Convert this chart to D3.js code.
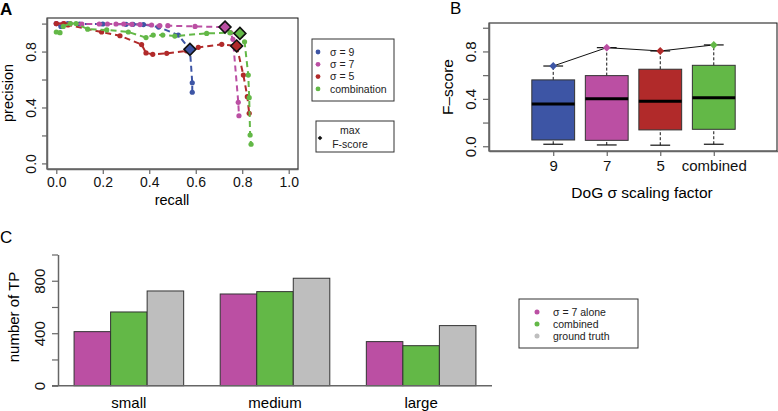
<!DOCTYPE html>
<html>
<head>
<meta charset="utf-8">
<script src="https://cdn.jsdelivr.net/npm/d3@7"></script>
<style>
  body { margin: 0; background: #fff; }
  svg { font-family: "Liberation Sans", Arial, Helvetica, sans-serif; }
</style>
</head>
<body>
<svg id="fig" width="778" height="411"></svg>
<script>
// ==== Data ====
// panel A: precision / recall curves
const recall9    = [0.0, 0.02, 0.05, 0.1, 0.2, 0.3, 0.33, 0.375, 0.44, 0.525, 0.575, 0.585, 0.585];
const precision9 = [1.0, 0.98, 1.0, 0.997, 0.997, 0.995, 0.995, 0.993, 0.975, 0.918, 0.816, 0.577, 0.509];
const recall7    = [0.0, 0.03, 0.06, 0.11, 0.185, 0.22, 0.257, 0.29, 0.325, 0.36, 0.41, 0.445, 0.48, 0.597, 0.726, 0.75, 0.76, 0.783, 0.786];
const precision7 = [1.0, 1.0, 1.0, 0.997, 0.997, 0.997, 0.997, 0.997, 0.995, 0.993, 0.99, 0.985, 0.985, 0.98, 0.975, 0.935, 0.888, 0.437, 0.341];
const recall5    = [0.0, 0.033, 0.05, 0.195, 0.274, 0.367, 0.386, 0.415, 0.475, 0.56, 0.611, 0.712, 0.776, 0.805, 0.822, 0.83];
const precision5 = [1.0, 1.0, 0.99, 0.94, 0.913, 0.85, 0.79, 0.78, 0.787, 0.805, 0.83, 0.852, 0.84, 0.632, 0.477, 0.358];
const recallC    = [0.0, 0.016, 0.03, 0.06, 0.085, 0.135, 0.217, 0.31, 0.386, 0.417, 0.458, 0.51, 0.647, 0.747, 0.79, 0.81, 0.826, 0.83, 0.834, 0.838];
const precisionC = [0.94, 0.935, 0.98, 1.0, 1.0, 0.96, 0.955, 0.94, 0.9, 0.918, 0.918, 0.911, 0.93, 0.935, 0.93, 0.87, 0.632, 0.47, 0.203, 0.137];
const prNames    = ["σ = 9", "σ = 7", "σ = 5", "combination"];
const bestIndex  = [10, 14, 12, 14];   // point with max F-score

// panel B: F-score boxplots
const bCats  = ["9", "7", "5", "combined"];
const bLow   = [0.017, 0.011, 0.009, 0.017];
const bQ1    = [0.053, 0.05, 0.138, 0.143];
const bMed   = [0.357, 0.40, 0.38, 0.41];
const bQ3    = [0.56, 0.596, 0.65, 0.683];
const bHigh  = [0.677, 0.832, 0.804, 0.855];
const bMaxF  = [0.677, 0.832, 0.804, 0.855];

// panel C: number of true positives
const sizeCats   = ["small", "medium", "large"];
const tpSigma7   = [412, 699, 336];
const tpCombined = [562, 717, 305];
const tpTruth    = [722, 819, 458];
const cNames     = ["σ = 7 alone", "combined", "ground truth"];

// ==== Styles ====
const cBlue = "#3d55a5", cMag = "#bb4fa3", cRed = "#b12a2a", cGreen = "#63b847", cGrey = "#bebebe";
const axisCol = "#666";

const svg = d3.select("#fig");

function panelLetter(t, x, y, bold) {
  svg.append("text").attr("x", x).attr("y", y).attr("font-size", 17)
    .attr("font-weight", bold ? "bold" : "normal").text(t);
}

// R-like axis: grey line, ticks, optional rotated labels
function styleAxis(g, rotated, off, fs) {
  g.select(".domain").attr("stroke", axisCol).attr("stroke-width", 1.5);
  g.selectAll(".tick line").attr("stroke", axisCol).attr("stroke-width", 1.2);
  g.selectAll(".tick text").attr("fill", "#111").attr("font-size", fs)
    .attr("font-family", "Liberation Sans, Arial, sans-serif");
  if (rotated) {
    g.selectAll(".tick text")
      .attr("x", null).attr("dy", null).attr("y", 0)
      .attr("text-anchor", "middle")
      .attr("transform", `translate(${off},0) rotate(-90)`);
  }
}

// ==== Panel A ====
const xA = d3.scaleLinear().domain([-0.04, 1.04]).range([47, 298]);
const yA = d3.scaleLinear().domain([-0.04, 1.04]).range([169, 18]);

panelLetter("A", 0, 15, true);

svg.append("rect").attr("x", 47).attr("y", 18).attr("width", 251).attr("height", 151)
  .attr("fill", "none").attr("stroke", "#111").attr("stroke-width", 1);

const ticks02 = [0, 0.2, 0.4, 0.6, 0.8, 1.0];
svg.append("g").attr("transform", "translate(0,169)")
  .call(d3.axisBottom(xA).tickValues(ticks02).tickFormat(d3.format(".1f")).tickSize(5).tickSizeOuter(0).tickPadding(3))
  .call(g => styleAxis(g, false, 0, 14));
svg.append("g").attr("transform", "translate(47,0)")
  .call(d3.axisLeft(yA).tickValues(ticks02).tickFormat(d => [0, 0.4, 0.8].includes(d) ? d3.format(".1f")(d) : "").tickSize(5).tickSizeOuter(0))
  .call(g => styleAxis(g, true, -11, 14));

svg.append("text").attr("x", 172).attr("y", 205).attr("text-anchor", "middle").attr("font-size", 14.5).text("recall");
svg.append("text").attr("transform", "translate(13,93) rotate(-90)").attr("text-anchor", "middle").attr("font-size", 14.5).text("precision");

const prSeries = [
  { name: prNames[0], color: cBlue,  rx: recall9, py: precision9, best: bestIndex[0] },
  { name: prNames[1], color: cMag,   rx: recall7, py: precision7, best: bestIndex[1] },
  { name: prNames[2], color: cRed,   rx: recall5, py: precision5, best: bestIndex[2] },
  { name: prNames[3], color: cGreen, rx: recallC, py: precisionC, best: bestIndex[3] }
];
const lineA = d3.line().x(d => xA(d[0])).y(d => yA(d[1]));
const gA = svg.append("g");
for (const s of prSeries) {
  const pts = s.rx.map((r, i) => [r, s.py[i]]);
  gA.append("path").attr("d", lineA(pts)).attr("fill", "none")
    .attr("stroke", s.color).attr("stroke-width", 2).attr("stroke-dasharray", "6,4");
  gA.selectAll(null).data(pts).enter().append("circle")
    .attr("cx", d => xA(d[0])).attr("cy", d => yA(d[1])).attr("r", 2.6).attr("fill", s.color);
}
const diamond = d3.symbol().type(d3.symbolDiamond2);
for (const s of prSeries) {
  const b = [s.rx[s.best], s.py[s.best]];
  gA.append("path").attr("d", diamond.size(90)())
    .attr("transform", `translate(${xA(b[0])},${yA(b[1])})`)
    .attr("fill", s.color).attr("stroke", "#111").attr("stroke-width", 1.6);
}

// legends A
const legA = svg.append("g");
legA.append("rect").attr("x", 312).attr("y", 39).attr("width", 82).attr("height", 62)
  .attr("fill", "none").attr("stroke", "#333");
prSeries.forEach((s, i) => {
  const y = 52 + i * 12.3;
  legA.append("circle").attr("cx", 318).attr("cy", y).attr("r", 2.4).attr("fill", s.color);
  legA.append("text").attr("x", 330).attr("y", y + 3.8).attr("font-size", 10.5).attr("fill", "#222").text(s.name);
});
legA.append("rect").attr("x", 316).attr("y", 121).attr("width", 78).attr("height", 31)
  .attr("fill", "none").attr("stroke", "#333");
legA.append("path").attr("d", diamond.size(14)()).attr("transform", "translate(320,138)").attr("fill", "#111");
legA.append("text").attr("x", 350).attr("y", 134).attr("text-anchor", "middle").attr("font-size", 10.5).attr("fill", "#222").text("max");
legA.append("text").attr("x", 350).attr("y", 147.5).attr("text-anchor", "middle").attr("font-size", 10.5).attr("fill", "#222").text("F-score");

// ==== Panel B ====
const xB = d3.scaleLinear().domain([-0.2, 5.2]).range([489, 778]);
const yB = d3.scaleLinear().domain([-0.04, 1.04]).range([151, 23]);
const boxColors = [cBlue, cMag, cRed, cGreen];

panelLetter("B", 450, 14, false);

svg.append("rect").attr("x", 489).attr("y", 23).attr("width", 288).attr("height", 128)
  .attr("fill", "none").attr("stroke", "#111").attr("stroke-width", 1);

svg.append("g").attr("transform", "translate(0,151)")
  .call(d3.axisBottom(xB).tickValues([1, 2, 3, 4]).tickFormat(d => bCats[d - 1]).tickSize(5).tickSizeOuter(0).tickPadding(4))
  .call(g => styleAxis(g, false, 0, 15));
svg.append("g").attr("transform", "translate(489,0)")
  .call(d3.axisLeft(yB).tickValues(ticks02).tickFormat(d => [0, 0.4, 0.8].includes(d) ? d3.format(".1f")(d) : "").tickSize(6).tickSizeOuter(0))
  .call(g => styleAxis(g, true, -13, 15));

svg.append("text").attr("x", 642).attr("y", 198).attr("text-anchor", "middle").attr("font-size", 15.5).text("DoG σ scaling factor");
svg.append("text").attr("transform", "translate(453,87) rotate(-90)").attr("text-anchor", "middle").attr("font-size", 15.5).text("F–score");

const boxW = 0.8, capW = 0.37;
const gB = svg.append("g");
bCats.forEach((c, i) => {
  const x = i + 1;
  gB.append("line").attr("x1", xB(x)).attr("x2", xB(x)).attr("y1", yB(bLow[i])).attr("y2", yB(bQ1[i]))
    .attr("stroke", "#111").attr("stroke-dasharray", "3,2");
  gB.append("line").attr("x1", xB(x)).attr("x2", xB(x)).attr("y1", yB(bQ3[i])).attr("y2", yB(bHigh[i]))
    .attr("stroke", "#111").attr("stroke-dasharray", "3,2");
  for (const v of [bLow[i], bHigh[i]]) {
    gB.append("line").attr("x1", xB(x - capW / 2)).attr("x2", xB(x + capW / 2)).attr("y1", yB(v)).attr("y2", yB(v))
      .attr("stroke", "#111").attr("stroke-width", 1.2);
  }
  gB.append("rect").attr("x", xB(x - boxW / 2)).attr("y", yB(bQ3[i]))
    .attr("width", xB(x + boxW / 2) - xB(x - boxW / 2)).attr("height", yB(bQ1[i]) - yB(bQ3[i]))
    .attr("fill", boxColors[i]).attr("stroke", "#333").attr("stroke-width", 1);
  gB.append("line").attr("x1", xB(x - boxW / 2)).attr("x2", xB(x + boxW / 2)).attr("y1", yB(bMed[i])).attr("y2", yB(bMed[i]))
    .attr("stroke", "#000").attr("stroke-width", 3);
});
gB.append("path").attr("d", d3.line().x((d, i) => xB(i + 1)).y(d => yB(d))(bMaxF))
  .attr("fill", "none").attr("stroke", "#111").attr("stroke-width", 1);
bMaxF.forEach((v, i) => {
  gB.append("path").attr("d", diamond.size(40)()).attr("transform", `translate(${xB(i + 1)},${yB(v)})`)
    .attr("fill", boxColors[i]);
});

// ==== Panel C ====
const xC = d3.scaleLinear().domain([0.56, 12.44]).range([58, 492]);
const yC = d3.scaleLinear().domain([0, 1000]).range([385.7, 254.5]);
const barColors = [cMag, cGreen, cGrey];
const barSeries = [tpSigma7, tpCombined, tpTruth];

panelLetter("C", 0, 243, false);

svg.append("g").attr("transform", "translate(58,0)")
  .call(d3.axisLeft(yC).tickValues([0, 200, 400, 600, 800, 1000]).tickFormat(d => [0, 400, 800].includes(d) ? d : "").tickSize(6).tickSizeOuter(0))
  .call(g => styleAxis(g, true, -13, 15));

const gC = svg.append("g");
sizeCats.forEach((c, gi) => {
  barSeries.forEach((ser, j) => {
    const left = 1 + gi * 4 + j;
    gC.append("rect").attr("x", xC(left)).attr("y", yC(ser[gi]))
      .attr("width", xC(left + 1) - xC(left)).attr("height", yC(0) - yC(ser[gi]))
      .attr("fill", barColors[j]).attr("stroke", "#333").attr("stroke-width", 1);
  });
  svg.append("text").attr("x", xC(1 + gi * 4 + 1.5)).attr("y", 408).attr("text-anchor", "middle")
    .attr("font-size", 15).text(c);
});
svg.append("line").attr("x1", 52).attr("x2", 492).attr("y1", yC(0)).attr("y2", yC(0))
  .attr("stroke", axisCol).attr("stroke-width", 1.5);

svg.append("text").attr("transform", "translate(19,317) rotate(-90)").attr("text-anchor", "middle").attr("font-size", 15).text("number of TP");

const legC = svg.append("g");
legC.append("rect").attr("x", 519).attr("y", 299).attr("width", 119).attr("height", 49)
  .attr("fill", "none").attr("stroke", "#333");
cNames.forEach((n, i) => {
  const y = 312 + i * 12;
  legC.append("circle").attr("cx", 537).attr("cy", y).attr("r", 2.5).attr("fill", barColors[i]);
  legC.append("text").attr("x", 553).attr("y", y + 3.8).attr("font-size", 10.5).attr("fill", "#222").text(n);
});
</script>
</body>
</html>
